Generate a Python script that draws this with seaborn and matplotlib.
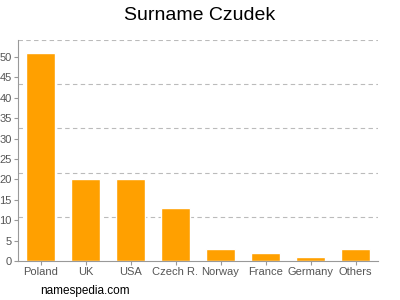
import matplotlib
matplotlib.use("Agg")
import matplotlib.pyplot as plt
from matplotlib.ticker import MultipleLocator, LinearLocator
import seaborn as sns
import pandas as pd

countries = ["Poland", "UK", "USA", "Czech R.", "Norway", "France", "Germany", "Others"]
counts = [51, 20, 20, 13, 3, 2, 1, 3]

sns.set_style("white")
plt.rcParams['font.family'] = ['Liberation Sans', 'DejaVu Sans']

df = pd.DataFrame({"country": countries, "count": counts})

fig = plt.figure(figsize=(4, 3), dpi=100)
ax = fig.add_axes([0.045, 0.13, 0.9, 0.737])
sns.barplot(data=df, x="country", y="count", color="#FFA000", saturation=1,
            width=0.63, ax=ax)
ax.set_xlim(-0.5, len(countries) - 0.5)
ax.set_ylim(0, 54.2)
ax.yaxis.set_major_locator(MultipleLocator(5))
ax.yaxis.set_minor_locator(LinearLocator(6))
ax.grid(False)
ax.grid(which="minor", axis="y", color="#bbbbbb", linestyle=(0, (4, 3)), linewidth=0.8)
ax.set_axisbelow(True)
ax.set_xlabel("")
ax.set_ylabel("")
for s in ["top", "right"]:
    ax.spines[s].set_visible(False)
for s in ["left", "bottom"]:
    ax.spines[s].set_color("#999999")
    ax.spines[s].set_linewidth(0.8)
ax.tick_params(axis="both", which="major", labelsize=8, labelcolor="#555555",
               color="#999999", length=3, width=0.8, pad=1.5, left=True, bottom=True)
ax.tick_params(axis="y", which="minor", length=0)
fig.text(0.5, 0.95, "Surname Czudek", ha="center", va="center", fontsize=14, color="#000000")
fig.text(0.1, 0.03, "namespedia.com", ha="left", va="center", fontsize=8.5, color="#000000")
fig.savefig("out.png", dpi=100)
